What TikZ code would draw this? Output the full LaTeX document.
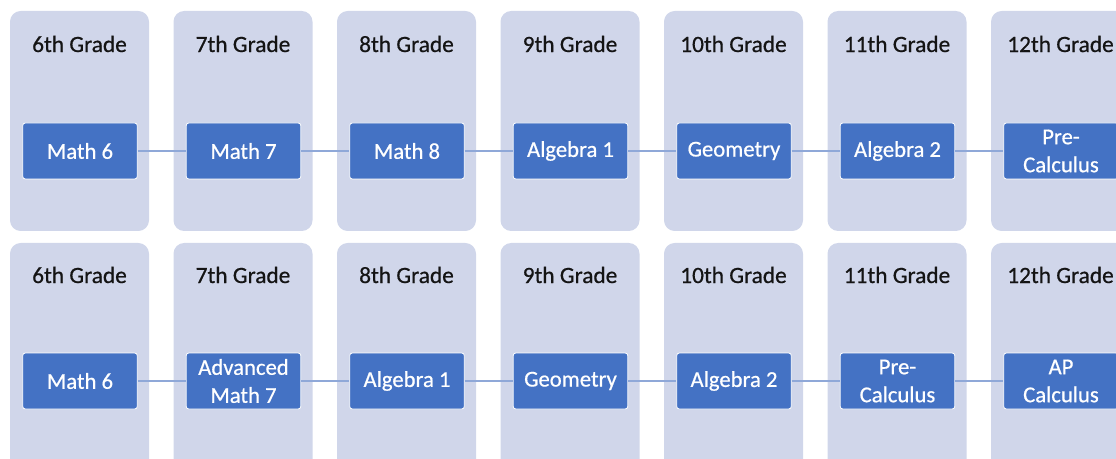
\documentclass[tikz,border=0pt]{standalone}
\usepackage{fontspec}
\setmainfont{Carlito}[FakeBold=0.6,AutoFakeBold=0.6]
\definecolor{panelbg}{HTML}{D0D6EA}
\definecolor{coursebg}{HTML}{4472C4}
\definecolor{linkcol}{HTML}{8FA8D8}
\definecolor{inkcol}{HTML}{141414}
\begin{document}
\begin{tikzpicture}[x=0.75pt,y=-0.75pt,
  grade/.style={text=inkcol,inner sep=0pt,font=\fontsize{17.5}{21}\bfseries},
  course/.style={fill=coursebg,draw=white,line width=0.6pt,rounded corners=2pt,
    text=white,align=center,minimum width=86pt,minimum height=42pt,inner sep=0pt,
    font=\fontsize{17}{21}\bfseries},
  link/.style={draw=linkcol,line width=1.3pt}]

\useasboundingbox (0,0) rectangle (1116,459);
\clip (0,0) rectangle (1116,459);

% The grade columns, two rows
\foreach \g [count=\i from 0] in {6,...,12} {
  \fill[panelbg,rounded corners=8pt] ({10+163.5*\i},11) rectangle +(139,220);
  \fill[panelbg,rounded corners=8pt] ({10+163.5*\i},243) rectangle +(139,230);
  \node[grade] (tg\g) at ({79.5+163.5*\i},44) {\g th Grade};
  \node[grade] (bg\g) at ({79.5+163.5*\i},275) {\g th Grade};
}

% The standard track
\node[course] (t6) at (80,151) {Math 6};
\node[course] (t7) at (243.5,151) {Math 7};
\node[course] (t8) at (407,151) {Math 8};
\node[course] (t9) at (570.5,151) {Algebra 1};
\node[course] (t10) at (734,151) {Geometry};
\node[course] (t11) at (897.5,151) {Algebra 2};
\node[course] (t12) at (1061,151) {Pre-\\Calculus};
\draw[link] (t6) -- (t7);
\draw[link] (t7) -- (t8);
\draw[link] (t8) -- (t9);
\draw[link] (t9) -- (t10);
\draw[link] (t10) -- (t11);
\draw[link] (t11) -- (t12);

% The advanced track
\node[course] (b6) at (80,381) {Math 6};
\node[course] (b7) at (243.5,381) {Advanced\\Math 7};
\node[course] (b8) at (407,381) {Algebra 1};
\node[course] (b9) at (570.5,381) {Geometry};
\node[course] (b10) at (734,381) {Algebra 2};
\node[course] (b11) at (897.5,381) {Pre-\\Calculus};
\node[course] (b12) at (1061,381) {AP\\Calculus};
\draw[link] (b6) -- (b7);
\draw[link] (b7) -- (b8);
\draw[link] (b8) -- (b9);
\draw[link] (b9) -- (b10);
\draw[link] (b10) -- (b11);
\draw[link] (b11) -- (b12);

\end{tikzpicture}
\end{document}
